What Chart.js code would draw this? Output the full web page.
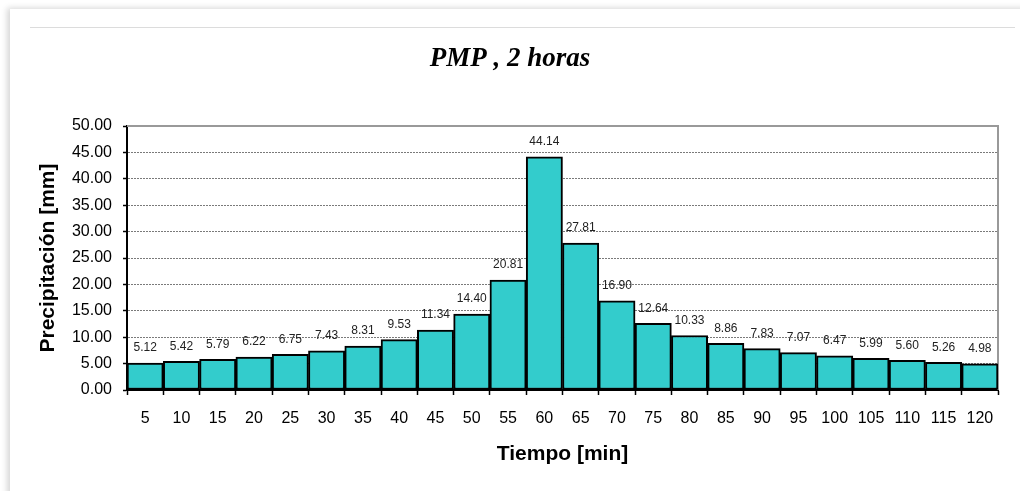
<!DOCTYPE html>
<html>
<head>
<meta charset="utf-8">
<script src="https://cdn.jsdelivr.net/npm/chart.js@4.4.1/dist/chart.umd.min.js"></script>
<style>
  html, body { margin: 0; padding: 0; background: #ffffff; }
  body { width: 1020px; height: 491px; position: relative; overflow: hidden; }
  .card {
    position: absolute; left: 10px; top: 9px; width: 1030px; height: 500px;
    background: #ffffff;
    box-shadow: -3px -1px 6px rgba(0,0,0,0.16);
  }
  .rule {
    position: absolute; left: 30px; top: 27px; width: 985px; height: 0;
    border-top: 1px solid #dcdcdc;
  }
  canvas { position: absolute; left: 0; top: 0; }
</style>
</head>
<body>
<div class="card"></div>
<div class="rule"></div>
<canvas id="chart" width="1020" height="491"></canvas>
<script>
// Time step of the design storm (minutes)
const tiempos = ['5','10','15','20','25','30','35','40','45','50','55','60',
                 '65','70','75','80','85','90','95','100','105','110','115','120'];
// Precipitation per interval (mm)
const precipitacion = [5.12, 5.42, 5.79, 6.22, 6.75, 7.43, 8.31, 9.53, 11.34, 14.40, 20.81, 44.14,
                       27.81, 16.90, 12.64, 10.33, 8.86, 7.83, 7.07, 6.47, 5.99, 5.60, 5.26, 4.98];
// Y axis range and step
const yMin = 0, yMax = 50, yStep = 5;

const SANS = '"Liberation Sans", Arial, sans-serif';

// Value labels above each bar
const valueLabels = {
  id: 'valueLabels',
  afterDatasetsDraw(chart) {
    const ctx = chart.ctx;
    const meta = chart.getDatasetMeta(0);
    ctx.save();
    ctx.font = '12px ' + SANS;
    ctx.fillStyle = '#222222';
    ctx.textAlign = 'center';
    ctx.textBaseline = 'middle';
    meta.data.forEach((bar, i) => {
      const v = chart.data.datasets[0].data[i];
      ctx.fillText(v.toFixed(2), bar.x, bar.y - 15);
    });
    ctx.restore();
  }
};

// Gray frame on the top and right sides of the plot area
const plotFrame = {
  id: 'plotFrame',
  beforeDatasetsDraw(chart) {
    const { ctx, chartArea: a } = chart;
    ctx.save();
    ctx.strokeStyle = '#999999';
    ctx.lineWidth = 2;
    ctx.beginPath();
    ctx.moveTo(a.left, a.top);
    ctx.lineTo(a.right, a.top);
    ctx.lineTo(a.right, a.bottom);
    ctx.stroke();
    ctx.restore();
  }
};

new Chart(document.getElementById('chart'), {
  type: 'bar',
  data: {
    labels: tiempos,
    datasets: [{
      data: precipitacion,
      backgroundColor: '#33CCCC',
      borderColor: '#000000',
      borderWidth: 2,
      borderSkipped: false,
      barPercentage: 1.0,
      categoryPercentage: 1.0
    }]
  },
  options: {
    responsive: false,
    animation: false,
    devicePixelRatio: 1,
    layout: { padding: { left: 22, right: 22, top: 0, bottom: 0 } },
    plugins: {
      legend: { display: false },
      tooltip: { enabled: false },
      title: {
        display: true,
        text: 'PMP , 2 horas',
        color: '#000000',
        font: { family: '"Liberation Serif", "Times New Roman", serif', size: 27, weight: 'bold', style: 'italic', lineHeight: 1.2 },
        padding: { top: 42.8, bottom: 50.8 }
      }
    },
    scales: {
      x: {
        offset: true,
        grid: {
          display: true,
          offset: true,
          drawOnChartArea: false,
          drawTicks: true,
          tickLength: 5,
          tickColor: '#000000',
          tickWidth: 1.5
        },
        border: { display: true, color: '#000000', width: 2 },
        ticks: {
          color: '#000000',
          font: { family: SANS, size: 16 },
          padding: 14,
          maxRotation: 0,
          autoSkip: false
        },
        title: {
          display: true,
          text: 'Tiempo [min]',
          color: '#000000',
          font: { family: SANS, size: 21, weight: 'bold', lineHeight: 1.2 },
          padding: { top: 0, bottom: 24.4 }
        },
        afterFit(scale) { scale.height = 101; }
      },
      y: {
        min: yMin,
        max: yMax,
        grid: {
          color: '#7a7a7a',
          lineWidth: 1,
          drawTicks: true,
          tickLength: 4,
          tickColor: '#000000',
          tickWidth: 1.5
        },
        border: { display: true, color: '#000000', width: 2, dash: [2, 1] },
        ticks: {
          stepSize: yStep,
          color: '#000000',
          font: { family: SANS, size: 16 },
          padding: 11,
          callback: (v) => Number(v).toFixed(2)
        },
        title: {
          display: true,
          text: 'Precipitación [mm]',
          color: '#000000',
          font: { family: SANS, size: 21, weight: 'bold', lineHeight: 1.2 },
          padding: { top: 13.4, bottom: 0 }
        },
        afterFit(scale) { scale.width = 105; }
      }
    }
  },
  plugins: [plotFrame, valueLabels]
});
</script>
</body>
</html>
